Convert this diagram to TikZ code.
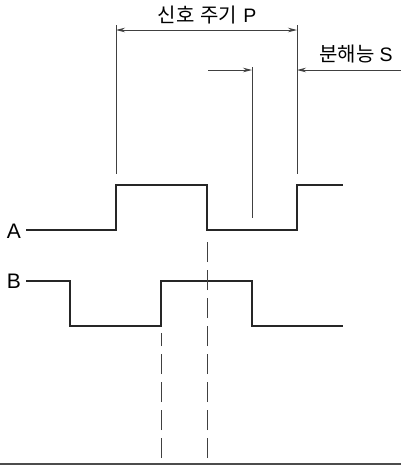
\documentclass[tikz,border=0pt]{standalone}
\usepackage{fontspec}
\setmainfont{Liberation Sans}
\newfontfamily\kr{Noto Sans CJK KR}
\usetikzlibrary{arrows.meta}
\newcommand{\krtext}[1]{{\kr\fontsize{20}{20}\selectfont #1}}
\begin{document}
\begin{tikzpicture}[x=1pt,y=-1pt,
  sig/.style={line width=1.6pt, color=black!85, line join=miter},
  guide/.style={line width=0.9pt, color=black!75},
  tipped/.style={guide, -{Stealth[length=9pt,width=4.5pt]}},
  both/.style={guide, {Stealth[length=9pt,width=4.5pt]}-{Stealth[length=9pt,width=4.5pt]}},
  dashy/.style={guide, dash pattern=on 20pt off 8pt},
  siglab/.style={inner sep=0pt, font=\fontsize{21}{21}\selectfont},
  dimlab/.style={inner sep=0pt, font=\fontsize{19.5}{20}\selectfont}]
\useasboundingbox (0,0) rectangle (401,466);
% labels
\node[siglab] (A) at (14,231) {A};
\node[siglab] (B) at (14,281) {B};
\node[dimlab] (P) at (207,15) {\krtext{신호\hspace{6pt}주기}\hspace{6pt}P};
\node[dimlab] (S) at (356,54) {\krtext{분해능}\hspace{5pt}S};
% key coordinates
\coordinate (a0) at (26,230);
\coordinate (a1) at (116,230);
\coordinate (a2) at (116,185);
\coordinate (a3) at (207,185);
\coordinate (a4) at (207,230);
\coordinate (a5) at (297,230);
\coordinate (a6) at (297,185);
\coordinate (a7) at (343,185);
\coordinate (b0) at (26,281);
\coordinate (b1) at (70,281);
\coordinate (b2) at (70,326);
\coordinate (b3) at (161,326);
\coordinate (b4) at (161,281);
\coordinate (b5) at (252,281);
\coordinate (b6) at (252,326);
\coordinate (b7) at (343,326);
% waveforms
\draw[sig] (a0) -- (a1) -- (a2) -- (a3) -- (a4) -- (a5) -- (a6) -- (a7);
\draw[sig] (b0) -- (b1) -- (b2) -- (b3) -- (b4) -- (b5) -- (b6) -- (b7);
% extension lines
\coordinate (e1t) at (116,25); \coordinate (e1b) at (116,174);
\coordinate (e2t) at (297,25); \coordinate (e2b) at (297,174);
\coordinate (e3t) at (252,67); \coordinate (e3b) at (252,218);
\draw[guide] (e1t) -- (e1b);
\draw[guide] (e2t) -- (e2b);
\draw[guide] (e3t) -- (e3b);
% dimension P
\coordinate (p1) at (116,30); \coordinate (p2) at (297,30);
\draw[both] (p1) -- (p2);
% dimension S
\coordinate (s1) at (208,70); \coordinate (s2) at (252,70);
\coordinate (s3) at (401,70); \coordinate (s4) at (297,70);
\draw[tipped] (s1) -- (s2);
\draw[tipped] (s3) -- (s4);
% dashed lines
\coordinate (d1b) at (161,458); \coordinate (d1t) at (161,333);
\coordinate (d2b) at (207,458); \coordinate (d2t) at (207,238);
\draw[dashy] (d1b) -- (d1t);
\draw[dashy] (d2b) -- (d2t);
% bottom rule
\coordinate (r1) at (0,464); \coordinate (r2) at (401,464);
\draw[line width=2pt, color=black!70] (r1) -- (r2);
\end{tikzpicture}
\end{document}
